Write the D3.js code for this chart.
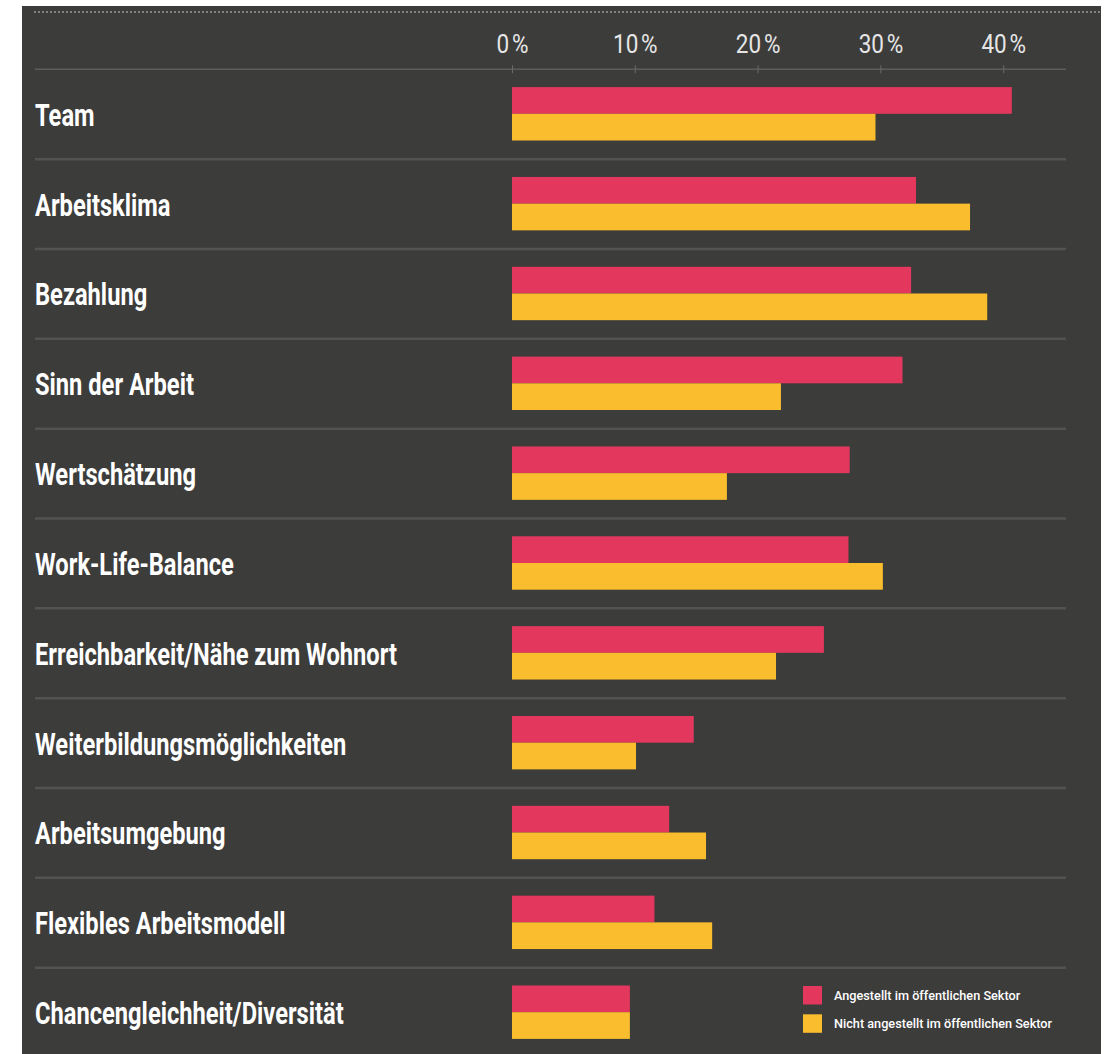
<!DOCTYPE html>
<html>
<head>
<meta charset="utf-8">
<script src="https://cdn.jsdelivr.net/npm/d3@7"></script>
<style>
  body { margin: 0; background: #fff; }
  svg { display: block; }
</style>
</head>
<body>
<svg id="chart" width="1107" height="1054"></svg>
<script>
var categories = [
    'Team',
    'Arbeitsklima',
    'Bezahlung',
    'Sinn der Arbeit',
    'Wertschätzung',
    'Work-Life-Balance',
    'Erreichbarkeit/Nähe zum Wohnort',
    'Weiterbildungsmöglichkeiten',
    'Arbeitsumgebung',
    'Flexibles Arbeitsmodell',
    'Chancengleichheit/Diversität'
];
var publicSector = [40.7, 32.9, 32.5, 31.8, 27.5, 27.4, 25.4, 14.8, 12.8, 11.6, 9.6];
var otherSector = [29.6, 37.3, 38.7, 21.9, 17.5, 30.2, 21.5, 10.1, 15.8, 16.3, 9.6];
var tickValues = [0, 10, 20, 30, 40];
var seriesNames = ['Angestellt im öffentlichen Sektor', 'Nicht angestellt im öffentlichen Sektor'];
var seriesColors = ['#e3375e', '#fabd2d'];

var svg = d3.select('#chart');
var font = 'Roboto, "DejaVu Sans Condensed", sans-serif';

// dark panel
svg.append('rect')
    .attr('x', 22).attr('y', 6)
    .attr('width', 1079).attr('height', 1048)
    .attr('fill', '#3c3c3b');

// dotted rule at the top
svg.append('line')
    .attr('x1', 34).attr('x2', 1101)
    .attr('y1', 12).attr('y2', 12)
    .attr('stroke', '#9a9a9a')
    .attr('stroke-width', 1.5)
    .attr('stroke-dasharray', '2,2');

var axisY = 69.3;
var rowH = 89.84;

var x = d3.scaleLinear()
    .domain([0, 10])
    .range([512, 634.8]);

var y = d3.scaleBand()
    .domain(categories)
    .range([axisY, axisY + rowH * categories.length]);

var sub = d3.scaleBand()
    .domain([0, 1])
    .range([17.8, 17.8 + 53.4]);

// axis line across the chart
svg.append('line')
    .attr('x1', 35).attr('x2', 1066)
    .attr('y1', axisY).attr('y2', axisY)
    .attr('stroke', '#5d5d5c')
    .attr('stroke-width', 1.5);

var axis = svg.append('g')
    .attr('transform', 'translate(0,' + axisY + ')')
    .call(d3.axisTop(x)
        .tickValues(tickValues)
        .tickSize(4)
        .tickPadding(12)
        .tickFormat(function(d) { return d + '\u202F%'; }));

axis.select('.domain').remove();
axis.selectAll('.tick line')
    .attr('y1', 4).attr('y2', -4)
    .attr('stroke', '#6a6a69')
    .attr('stroke-width', 1);
axis.selectAll('.tick text')
    .attr('fill', '#e6e6e6')
    .attr('transform', 'scale(0.9,1)')
    .style('font-family', font)
    .style('font-size', '25px');

// row separators
svg.append('g')
    .selectAll('line')
    .data(categories.slice(1))
    .join('line')
    .attr('x1', 35).attr('x2', 1066)
    .attr('y1', function(d) { return y(d); })
    .attr('y2', function(d) { return y(d); })
    .attr('stroke', '#535352')
    .attr('stroke-width', 2.5);

// category labels, squeezed to a condensed look
var labels = svg.append('g')
    .selectAll('text')
    .data(categories)
    .join('text')
    .attr('x', 0)
    .attr('y', 0)
    .attr('fill', '#ffffff')
    .style('font-family', font)
    .style('font-weight', 'bold')
    .style('font-size', '31px')
    .text(function(d) { return d; });

var longest = d3.max(labels.nodes(), function(n) { return n.getComputedTextLength(); });
var squeeze = 362 / longest;
labels.attr('transform', function(d) {
    return 'translate(35,' + (y(d) + y.bandwidth() / 2 + 11.5) + ') scale(' + squeeze + ',1)';
});

// bars
var series = [publicSector, otherSector];
series.forEach(function(values, s) {
    svg.append('g')
        .selectAll('rect')
        .data(categories)
        .join('rect')
        .attr('x', x(0))
        .attr('y', function(d) { return y(d) + sub(s); })
        .attr('width', function(d, i) { return x(values[i]) - x(0); })
        .attr('height', sub.bandwidth())
        .attr('fill', seriesColors[s]);
});

// legend
var legend = svg.append('g')
    .attr('transform', 'translate(803,986)');

var item = legend.selectAll('g')
    .data(seriesNames)
    .join('g')
    .attr('transform', function(d, i) { return 'translate(0,' + (i * 28.3) + ')'; });

item.append('rect')
    .attr('width', 19)
    .attr('height', 18.5)
    .attr('fill', function(d, i) { return seriesColors[i]; });

item.append('text')
    .attr('transform', 'translate(31,14) scale(0.94,1)')
    .attr('fill', '#ffffff')
    .style('font-family', font)
    .style('font-weight', 500)
    .style('font-size', '13.5px')
    .text(function(d) { return d; });
</script>
</body>
</html>
